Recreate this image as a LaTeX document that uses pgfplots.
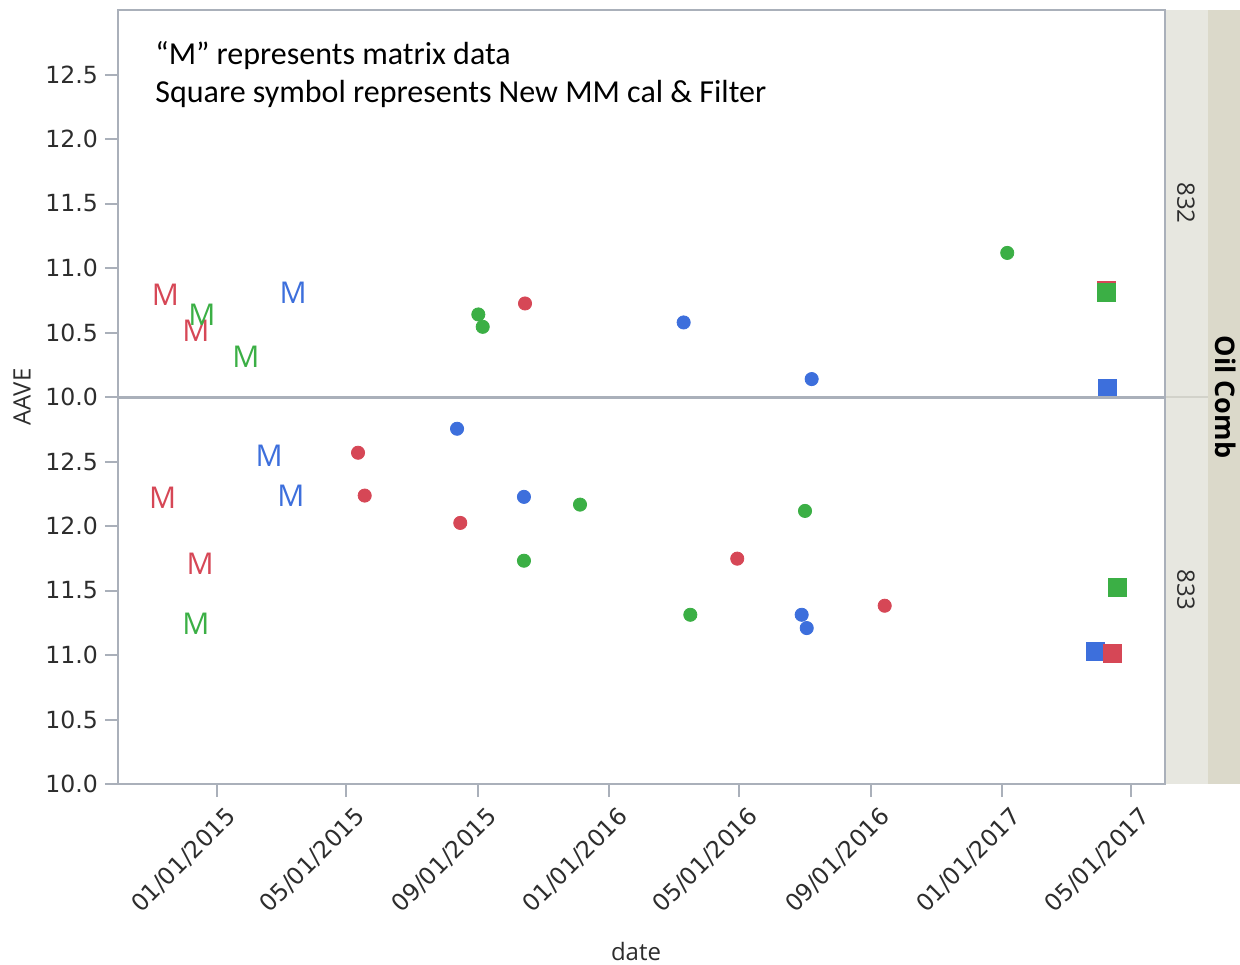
\documentclass[border=0pt]{standalone}
\usepackage{pgfplots}
\pgfplotsset{compat=1.18}
\usepackage{fontspec}
\setmainfont{DejaVu Sans}
\newfontfamily\dvsans{DejaVu Sans}
\newfontfamily\notefont{Carlito}
\newfontfamily\labfont{Open Sans}

\definecolor{mred}{RGB}{214,71,86}
\definecolor{mgreen}{RGB}{59,175,69}
\definecolor{mblue}{RGB}{61,111,220}
\definecolor{framegray}{RGB}{170,176,186}
\definecolor{tickgray}{RGB}{45,45,45}
\definecolor{stripA}{RGB}{231,231,224}
\definecolor{stripB}{RGB}{219,217,202}
\definecolor{stripline}{RGB}{210,210,202}

\pgfplotsset{
  panel/.style={
    scale only axis, width=523.5pt, height=193.5pt,
    xmin=-92.2, xmax=882.7, ymin=10, ymax=13,
    axis line style={draw=framegray, line width=1pt},
    tick style={draw=framegray, line width=1pt},
    major tick length=6.5pt,
    tick align=outside, tick pos=left,
    ytick={10,10.5,11,11.5,12,12.5},
    /pgf/number format/fixed,
    /pgf/number format/fixed zerofill,
    /pgf/number format/precision=1,
    /pgf/number format/assume math mode=true,
    yticklabel style={font=\dvsans\fontsize{11.8}{14}\selectfont, text=tickgray},
    xticklabel style={font=\dvsans\fontsize{11.8}{14}\selectfont, text=tickgray},
    clip=false,
  },
  dot/.style={only marks, mark=*, mark size=3.3pt, color=#1},
  sq/.style={only marks, mark=square*, mark size=4.5pt, color=#1},
  mm/.style={only marks, mark=text, text mark={M}, text mark as node=true,
    text mark style={font=\labfont\fontsize{15}{15}\selectfont, text=#1, inner sep=0pt}, color=#1},
}

\begin{document}
\begin{tikzpicture}[x=0.5pt, y=-0.5pt]
\useasboundingbox (0,0) rectangle (1240,964);

% facet strips on the right
\fill[stripA] (1165,10) rectangle (1208,784);
\fill[stripB] (1208,10) rectangle (1240,784);
\draw[stripline, line width=1pt] (1165,397) -- (1208,397);

% panel 832
\begin{axis}[panel, at={(59pt,-198.5pt)}, anchor=south west, xtick=\empty]
  \addplot[mm=mred] coordinates {(-48,10.79) (-19.6,10.515)};
  \addplot[mm=mgreen] coordinates {(-14.0,10.635) (27.0,10.31)};
  \addplot[mm=mblue] coordinates {(70.8,10.805)};
  \addplot[dot=mgreen] coordinates {(243.3,10.64) (247.4,10.544) (735.8,11.117)};
  \addplot[dot=mred] coordinates {(286.8,10.725)};
  \addplot[dot=mblue] coordinates {(434.5,10.578) (553.7,10.139)};
  \addplot[sq=mblue] coordinates {(829.1,10.07)};
  \addplot[sq=mred] coordinates {(827.7,10.824)};
  \addplot[sq=mgreen] coordinates {(827.9,10.811)};
\end{axis}

% panel 833
\begin{axis}[panel, at={(59pt,-392pt)}, anchor=south west,
  xtick={0,120,243,365,486,609,731,851},
  xticklabels={01/01/2015,05/01/2015,09/01/2015,01/01/2016,05/01/2016,09/01/2016,01/01/2017,05/01/2017},
  xticklabel style={rotate=45, anchor=north east, inner sep=2pt, xshift=2pt, yshift=-3.5pt}]
  \addplot[mm=mred] coordinates {(-50.6,12.218) (-15.8,11.704)};
  \addplot[mm=mblue] coordinates {(48.6,12.541) (68.7,12.231)};
  \addplot[mm=mgreen] coordinates {(-19.7,11.244)};
  \addplot[dot=mred] coordinates {(131.3,12.568) (137.5,12.236) (226.5,12.024) (484.4,11.747) (621.7,11.382)};
  \addplot[dot=mblue] coordinates {(223.5,12.754) (285.8,12.226) (544.4,11.312) (549.1,11.209)};
  \addplot[dot=mgreen] coordinates {(285.8,11.731) (338.0,12.166) (547.5,12.117) (440.7,11.312)};
  \addplot[sq=mblue] coordinates {(818.0,11.030)};
  \addplot[sq=mred] coordinates {(833.8,11.012)};
  \addplot[sq=mgreen] coordinates {(838.7,11.528)};
\end{axis}

% shared border between the two panels
\draw[framegray, line width=1.5pt] (118,397) -- (1165,397);

% notes
\node[anchor=base west, inner sep=0pt, font=\notefont\fontsize{16}{19}\selectfont] at (155,64) {“M” represents matrix data};
\node[anchor=base west, inner sep=0pt, font=\notefont\fontsize{16}{19}\selectfont] at (155,102) {Square symbol represents New MM cal \& Filter};

% axis titles
\node[rotate=90, font=\labfont\fontsize{12}{14}\selectfont, text=tickgray] at (22,397) {AAVE};
\node[font=\labfont\fontsize{12}{14}\selectfont, text=tickgray] at (636,951) {date};

% strip labels
\node[rotate=-90, font=\labfont\fontsize{12}{14}\selectfont, text=tickgray] at (1186,203) {832};
\node[rotate=-90, font=\labfont\fontsize{12}{14}\selectfont, text=tickgray] at (1186,590) {833};
\node[rotate=-90, font=\labfont\bfseries\fontsize{13.5}{16}\selectfont] at (1226,397) {Oil Comb};
\end{tikzpicture}
\end{document}
